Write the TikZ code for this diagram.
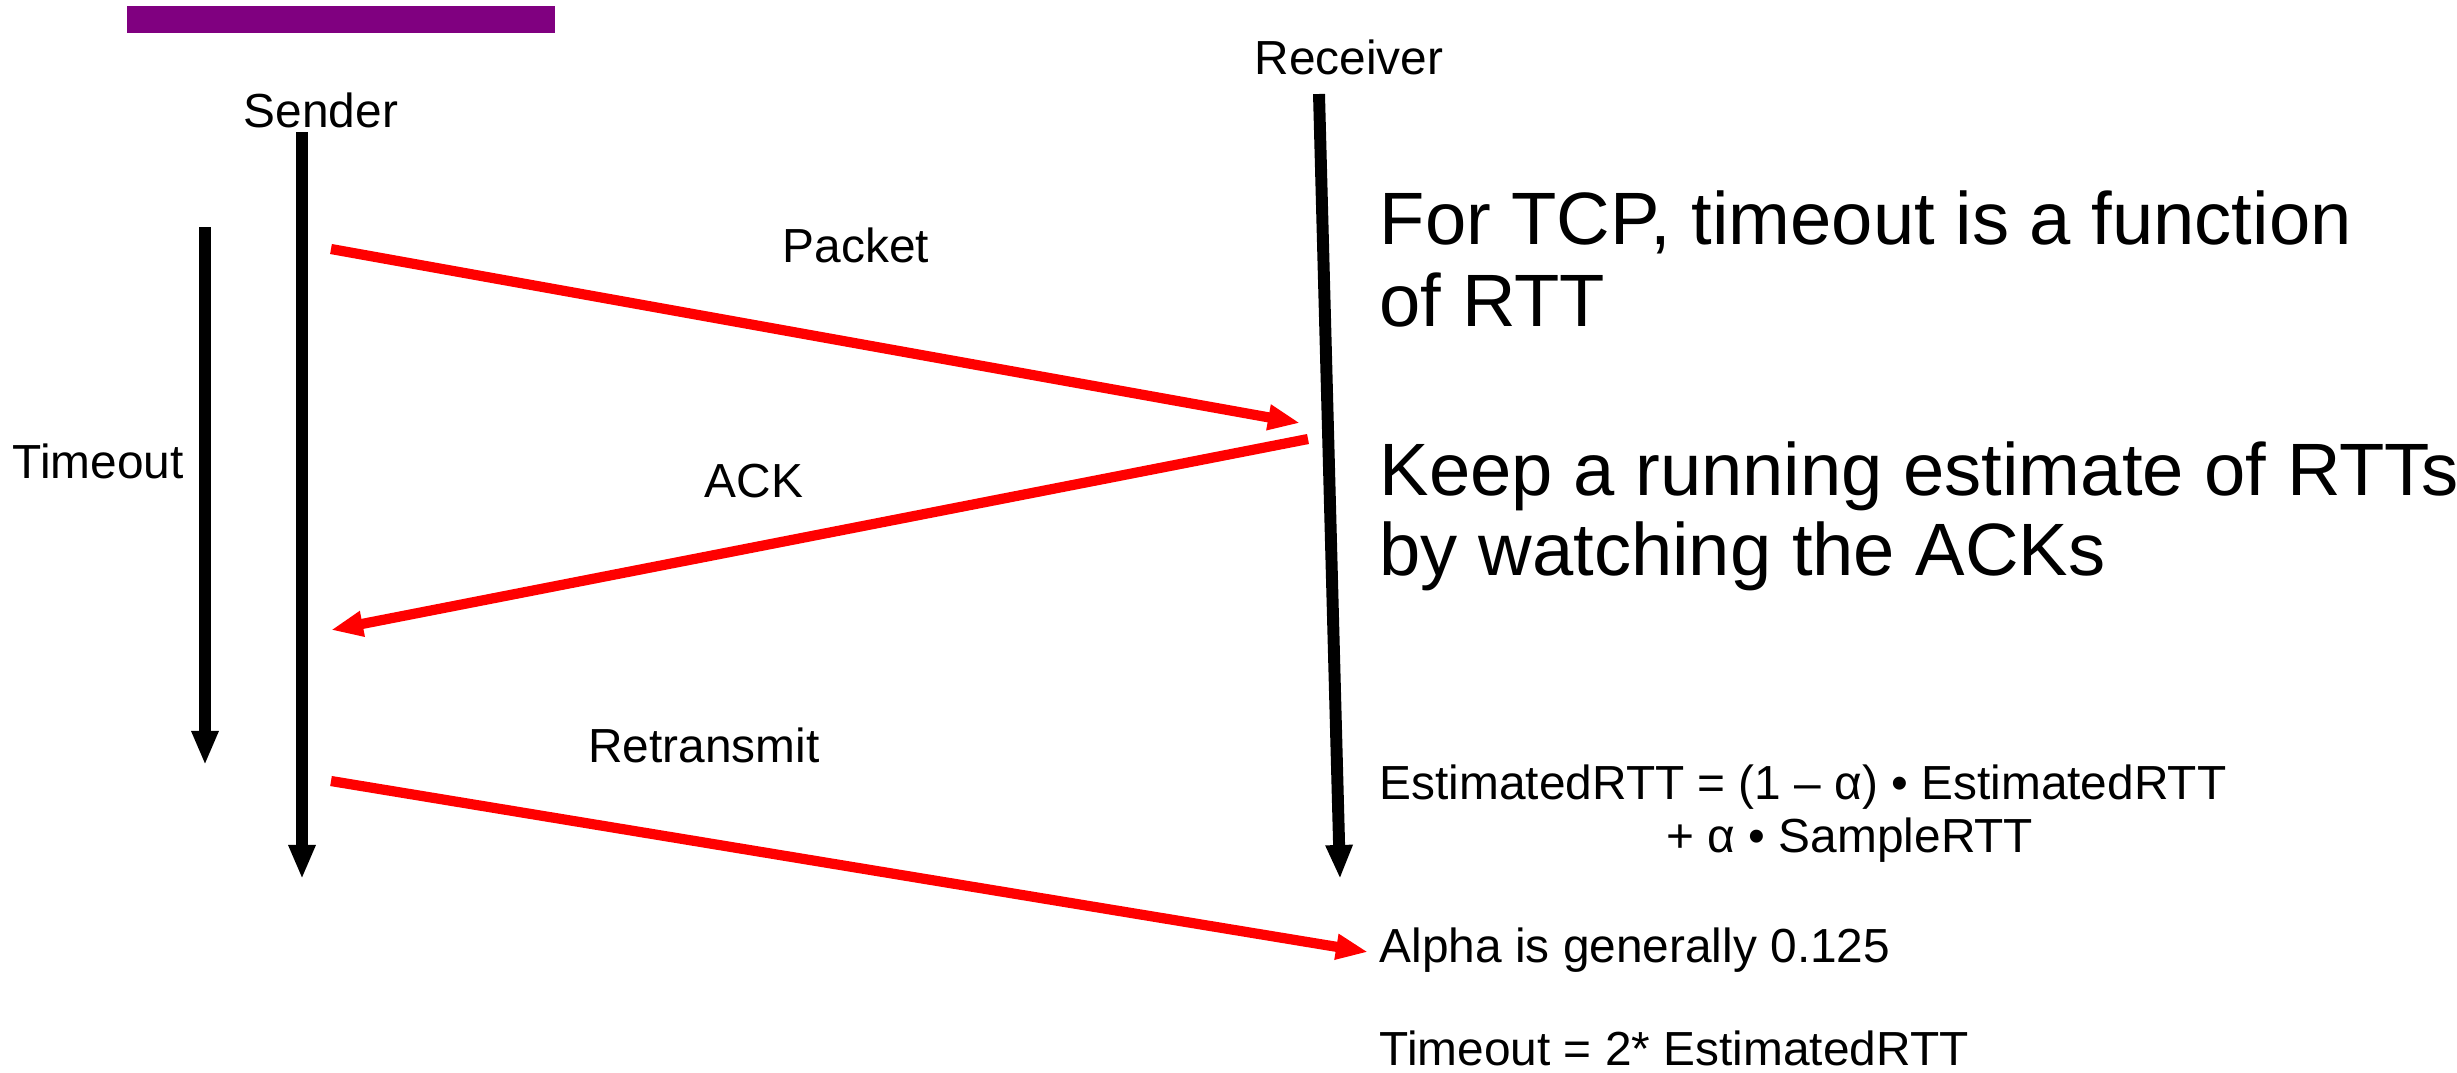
\documentclass[tikz,border=0pt]{standalone}
\usepackage{fontspec}
\setmainfont{Liberation Sans}
\usetikzlibrary{arrows.meta}
\definecolor{barpurple}{HTML}{800080}
\begin{document}
\begin{tikzpicture}[x=0.01cm,y=-0.01cm,
  lbl/.style={font=\fontsize{13.6}{16}\selectfont, inner sep=0pt, anchor=base},
  big/.style={font=\fontsize{21.1}{23.3}\selectfont, inner sep=0pt, anchor=base west},
  txt/.style={font=\fontsize{13.6}{16}\selectfont, inner sep=0pt, anchor=base west},
  timeline/.style={line width=3.4pt, -{Triangle[length=0.34cm,width=0.25cm]}},
  msg/.style={red, line width=2.9pt, -{Triangle[length=0.32cm,width=0.24cm]}}]
\useasboundingbox (0,0) rectangle (2457,1072);
\clip (0,0) rectangle (2457,1072);
% header bar
\fill[barpurple] (127,6) rectangle (555,33);
% labels
\node[lbl] (sender) at (321,127) {Sender};
\node[lbl] (receiver) at (1349,74) {Receiver};
\node[lbl] (packet) at (856,262) {Packet};
\node[lbl] (ack) at (754,497) {ACK};
\node[lbl] (retx) at (704,762) {Retransmit};
\node[lbl, anchor=base west] (timeout) at (12,478) {Timeout};
% endpoints
\coordinate (sTop) at (302,132);
\coordinate (sBot) at (302,879);
\coordinate (tTop) at (205,227);
\coordinate (tBot) at (205,765);
\coordinate (rTop) at (1319,94);
\coordinate (rBot) at (1340,879);
\coordinate (pS) at (331,249);
\coordinate (pE) at (1300,423);
\coordinate (aS) at (1308,439);
\coordinate (aE) at (331,630);
\coordinate (xS) at (331,781);
\coordinate (xE) at (1368,952);
% timelines
\draw[timeline] (sTop) -- (sBot);
\draw[timeline] (tTop) -- (tBot);
\draw[timeline] (rTop) -- (rBot);
% messages
\draw[msg] (pS) -- (pE);
\draw[msg] (aS) -- (aE);
\draw[msg] (xS) -- (xE);
% text
\node[big] (t1) at (1379,244) {For TCP, timeout is a function};
\node[big] (t2) at (1379,326) {of RTT};
\node[big] (t3) at (1379,495) {Keep a running estimate of RTTs};
\node[big] (t4) at (1379,575) {by watching the ACKs};
\node[txt] (f1) at (1379,799) {EstimatedRTT = (1 – α) • EstimatedRTT};
\node[txt] (f2) at (1666,852) {+ α • SampleRTT};
\node[txt] (f3) at (1379,962) {Alpha is generally 0.125};
\node[txt] (f4) at (1379,1065) {Timeout = 2* EstimatedRTT};
\end{tikzpicture}
\end{document}
